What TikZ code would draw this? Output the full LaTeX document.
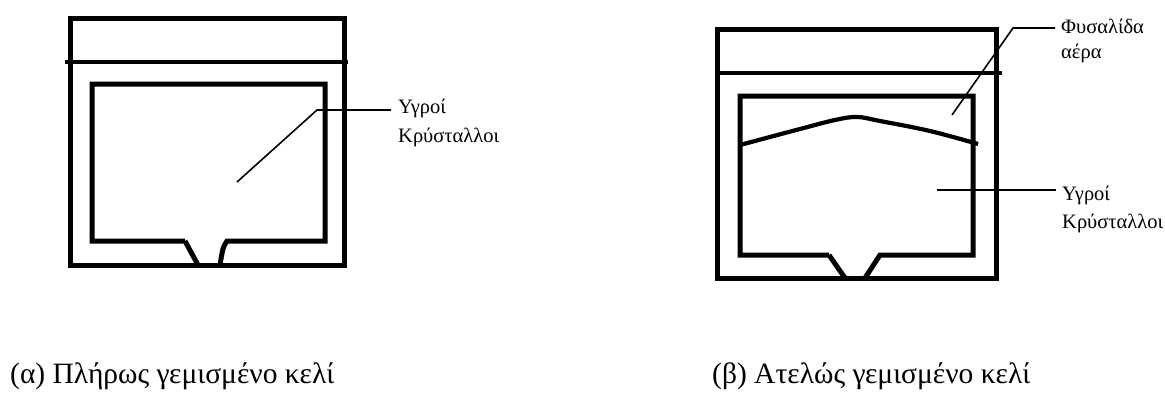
\documentclass[tikz,border=0pt]{standalone}
\usepackage{fontspec}
\setmainfont{Liberation Serif}
\begin{document}
\begin{tikzpicture}[x=1pt,y=-1pt,
  wall/.style={line width=5pt,line join=miter},
  rim/.style={line width=4.2pt},
  leader/.style={line width=1.6pt},
  lbl/.style={font=\fontsize{20.5}{24}\selectfont,inner sep=0pt,anchor=base west},
  capt/.style={font=\fontsize{29.5}{32}\selectfont,inner sep=0pt,anchor=base west}]
\useasboundingbox (0,0) rectangle (1165,394);

% ---- (a) fully filled cell ----
\draw[wall] (70,18) rectangle (344,265);
\draw[rim] (65,62) -- (348,62);
\draw[wall] (185,241) -- (92,241) -- (92,84) -- (325,84) -- (325,241) -- (227,241)
  .. controls (223,247) .. (220,265);
\draw[wall] (185,241) -- (198,265);
\coordinate (a1) at (237,182);
\coordinate (a2) at (317,110);
\node[lbl] (lcA1) at (398,113) {Υγροί};
\node[lbl] (lcA2) at (398,142) {Κρύσταλλοι};
\coordinate (a3) at (391,110);
\draw[leader] (a1) -- (a2) -- (a3);
\node[capt] (capA) at (10,383) {(α) Πλήρως γεμισμένο κελί};

% ---- (b) partially filled cell ----
\draw[wall] (717,29) rectangle (996,278);
\draw[rim] (717,73) -- (1002,73);
\draw[wall] (829,255) -- (740,255) -- (740,96) -- (973,96) -- (973,255) -- (880,255) -- (865,278);
\draw[wall] (829,255) -- (845,278);
% free surface of the liquid crystal
\draw[rim] plot[smooth,tension=0.6] coordinates {(740,145) (800,129) (835,120) (857,117) (880,121) (930,131) (978,144)};
\coordinate (b1) at (952,115);
\coordinate (b2) at (1013,28);
\coordinate (b3) at (1055,28);
\node[lbl] (lbB1) at (1061,33) {Φυσαλίδα};
\node[lbl] (lbB2) at (1061,58) {αέρα};
\draw[leader] (b1) -- (b2) -- (b3);
\coordinate (c1) at (937,190);
\coordinate (c2) at (1056,190);
\node[lbl] (lcB1) at (1062,200) {Υγροί};
\node[lbl] (lcB2) at (1062,228) {Κρύσταλλοι};
\draw[leader] (c1) -- (c2);
\node[capt] (capB) at (712,383) {(β) Ατελώς γεμισμένο κελί};
\end{tikzpicture}
\end{document}
